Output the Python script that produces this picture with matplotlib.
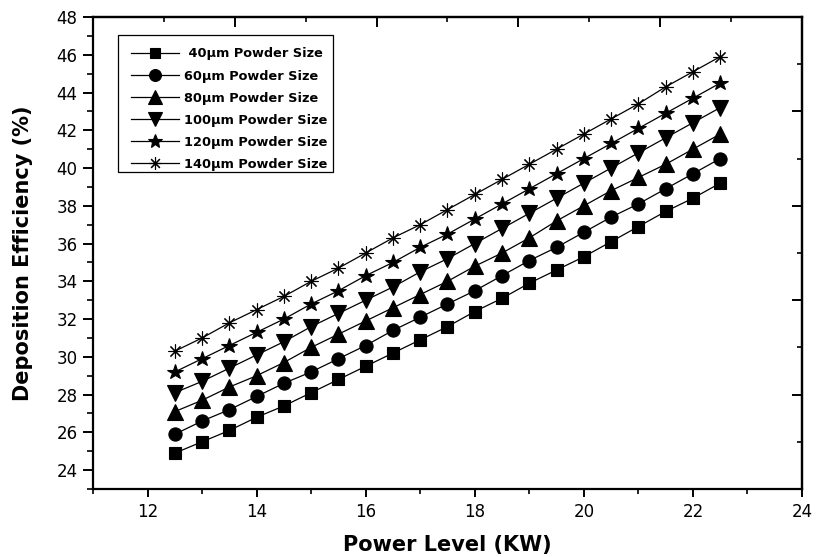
import matplotlib
matplotlib.use("Agg")
import matplotlib.pyplot as plt
from matplotlib.patches import Rectangle
from matplotlib.ticker import MultipleLocator, FixedLocator, NullFormatter

power = [12.5, 13.0, 13.5, 14.0, 14.5, 15.0, 15.5, 16.0, 16.5, 17.0, 17.5,
         18.0, 18.5, 19.0, 19.5, 20.0, 20.5, 21.0, 21.5, 22.0, 22.5]
eff_40 = [24.9, 25.5, 26.1, 26.8, 27.4, 28.1, 28.8, 29.5, 30.2, 30.9, 31.6,
          32.4, 33.1, 33.9, 34.6, 35.3, 36.1, 36.9, 37.7, 38.4, 39.2]
eff_60 = [25.9, 26.6, 27.2, 27.9, 28.6, 29.2, 29.9, 30.6, 31.4, 32.1, 32.8,
          33.5, 34.3, 35.1, 35.8, 36.6, 37.4, 38.1, 38.9, 39.7, 40.5]
eff_80 = [27.1, 27.7, 28.4, 29.0, 29.7, 30.5, 31.2, 31.9, 32.6, 33.3, 34.0,
          34.8, 35.5, 36.3, 37.2, 38.0, 38.8, 39.5, 40.2, 41.0, 41.8]
eff_100 = [28.1, 28.7, 29.4, 30.1, 30.8, 31.6, 32.3, 33.0, 33.7, 34.5, 35.2,
           36.0, 36.8, 37.6, 38.4, 39.2, 40.0, 40.8, 41.6, 42.4, 43.2]
eff_120 = [29.2, 29.9, 30.6, 31.3, 32.0, 32.8, 33.5, 34.3, 35.0, 35.8, 36.5,
           37.3, 38.1, 38.9, 39.7, 40.5, 41.3, 42.1, 42.9, 43.7, 44.5]
eff_140 = [30.3, 31.0, 31.8, 32.5, 33.2, 34.0, 34.7, 35.5, 36.3, 37.0, 37.8,
           38.6, 39.4, 40.2, 41.0, 41.8, 42.6, 43.4, 44.3, 45.1, 45.9]
labels = [" 40µm Powder Size", "60µm Powder Size", "80µm Powder Size",
          "100µm Powder Size", "120µm Powder Size", "140µm Powder Size"]

plt.rcParams['font.family'] = ['DejaVu Sans']

W, H = 816, 557
fig = plt.figure(figsize=(W / 100, H / 100), dpi=100)
ax = fig.add_axes([93/W, 1 - 489/H, (802-93)/W, (489-17)/H])

series = [eff_40, eff_60, eff_80, eff_100, eff_120, eff_140]
markers = ['s', 'o', '^', 'v', '*', (8, 2, 0)]
sizes = [8, 9.5, 11, 11, 11.5, 10]
for ys, m, ms, lab in zip(series, markers, sizes, labels):
    ax.plot(power, ys, color='black', lw=0.9, marker=m, ms=ms,
            markerfacecolor='black', markeredgecolor='black',
            markeredgewidth=0.8, label=lab)

ax.set_xlim(11, 24)
ax.set_ylim(23, 48)
ax.xaxis.set_major_locator(MultipleLocator(2))
ax.xaxis.set_minor_locator(MultipleLocator(1))
ax.yaxis.set_major_locator(MultipleLocator(2))
ax.yaxis.set_minor_locator(MultipleLocator(1))
ax.tick_params(which='major', direction='out', length=6, width=1.4,
               labelsize=12, pad=4)
ax.tick_params(which='minor', direction='out', length=3.5, width=1.2)
ax.tick_params(axis='y', which='major', length=7, pad=4)
ax.tick_params(axis='y', which='minor', length=4.5)
for s in ax.spines.values():
    s.set_linewidth(1.6)

# top and right axes carry their own independent tick marks
top = ax.secondary_xaxis('top', functions=(lambda x: (x - 11) / 1.3,
                                          lambda v: v * 1.3 + 11))
top.xaxis.set_major_locator(FixedLocator([2, 4, 6, 8]))
top.xaxis.set_minor_locator(FixedLocator([1, 3, 5, 7, 9]))
top.xaxis.set_major_formatter(NullFormatter())
top.tick_params(which='major', direction='in', length=7, width=1.4)
top.tick_params(which='minor', direction='in', length=3.5, width=1.2)
top.spines['top'].set_linewidth(1.6)

right = ax.secondary_yaxis('right', functions=(lambda y: (y - 23) / 2.5,
                                              lambda v: v * 2.5 + 23))
right.yaxis.set_major_locator(FixedLocator([2, 4, 6, 8]))
right.yaxis.set_minor_locator(FixedLocator([1, 3, 5, 7, 9]))
right.yaxis.set_major_formatter(NullFormatter())
right.tick_params(which='major', direction='in', length=7.5, width=1.4)
right.tick_params(which='minor', direction='in', length=3.5, width=1.2)
right.spines['right'].set_linewidth(1.6)

ax.set_xlabel("Power Level (KW)", fontsize=15, fontweight='bold', labelpad=10)
ax.set_ylabel("Deposition Efficiency (%)", fontsize=15, fontweight='bold',
              labelpad=17)

leg = ax.legend(loc='upper left', bbox_to_anchor=(131/W, 1 - 47.5/H),
                bbox_transform=fig.transFigure, borderaxespad=0,
                borderpad=0, frameon=False,
                prop={'weight': 'bold', 'size': 9.3}, handlelength=3.7,
                labelspacing=0.7, handletextpad=0.4, markerscale=0.9)
fig.add_artist(Rectangle((118/W, 1 - 172/H), (333-118)/W, (172-35)/H,
                         transform=fig.transFigure, fill=False,
                         edgecolor='black', lw=0.9))

fig.savefig("out.png", dpi=100)
